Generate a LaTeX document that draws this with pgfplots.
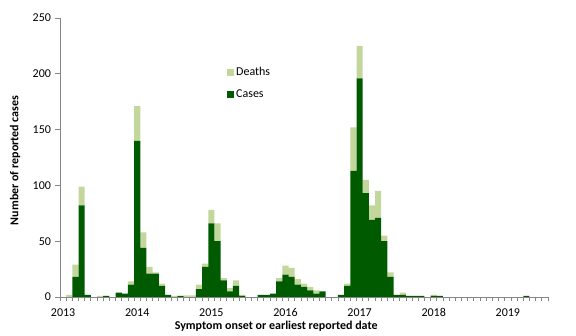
\documentclass[border=0pt]{standalone}
\usepackage{pgfplots}
\pgfplotsset{compat=1.18}
\usepackage{pgfplotstable}
\usepackage{fontspec}
\setmainfont{Carlito}
\definecolor{cases}{RGB}{0,90,0}
\definecolor{deaths}{RGB}{195,214,155}
\definecolor{axgray}{RGB}{134,134,134}

\pgfplotstableread{
x cases deaths
0.5 0 0
1.5 0 2
2.5 18 11
3.5 82 17
4.5 2 0
5.5 0 0
6.5 0 1
7.5 1 0
8.5 0 0
9.5 4 0
10.5 3 0
11.5 11 3
12.5 140 31
13.5 44 14
14.5 21 6
15.5 21 1
16.5 10 2
17.5 2 0
18.5 0 1
19.5 1 0
20.5 0 1.5
21.5 0 1.5
22.5 7 4
23.5 27 3
24.5 66 12
25.5 50 16
26.5 15 2
27.5 5 3
28.5 10 5
29.5 1 1
30.5 0 0
31.5 0 0
32.5 2 0
33.5 2 0
34.5 3 0
35.5 14 3
36.5 20 8
37.5 18 8
38.5 11 5
39.5 9 3
40.5 6 3
41.5 3 3
42.5 5 0
43.5 0 0
44.5 0 0
45.5 2 0
46.5 10 2
47.5 113 39
48.5 196 29
49.5 93 12
50.5 69 13
51.5 71 24
52.5 50 5
53.5 18 4
54.5 2 0
55.5 2 2
56.5 1 0
57.5 1 0
58.5 1 0
59.5 0 0
60.5 1 1
61.5 1 0
62.5 0 0
63.5 0 0
64.5 0 0
65.5 0 0
66.5 0 0
67.5 0 0
68.5 0 0
69.5 0 0
70.5 0 0
71.5 0 0
72.5 0 0
73.5 0 0
74.5 0 0
75.5 1 0
76.5 0 0
77.5 0 0
78.5 0 0
}\datatable

\begin{document}
\begin{tikzpicture}
\useasboundingbox (0pt,0pt) rectangle (576pt,336pt);
\begin{axis}[
  at={(60pt,39pt)}, anchor=south west,
  scale only axis, width=488pt, height=279pt,
  xmin=0, xmax=79, ymin=0, ymax=250,
  ybar stacked, bar width=1,
  axis x line*=bottom, axis y line*=left,
  axis line style={axgray, line width=0.8pt, -},
  tick align=outside,
  major tick length=4.5pt,
  tick style={axgray, line width=0.8pt},
  /pgf/number format/assume math mode=true,
  ytick={0,50,...,250},
  xtick={0,...,79}, xticklabels={},
  extra x ticks={0.5,12.5,...,72.5},
  extra x tick labels={2013,2014,2015,2016,2017,2018,2019},
  extra x tick style={major tick length=0pt, xticklabel style={yshift=-8pt}},
  ticklabel style={font=\fontsize{12}{14}\selectfont, black},
  yticklabel style={xshift=-1pt},
  ylabel={\textbf{Number of reported cases}},
  ylabel style={at={(axis description cs:-0.092,0.49)}, anchor=center, font=\fontsize{12}{14}\selectfont},
  xlabel={\textbf{Symptom onset or earliest reported date}},
  xlabel style={at={(axis description cs:0.443,-0.106)}, anchor=center, font=\fontsize{12}{14}\selectfont},
  reverse legend,
  legend style={at={(axis description cs:0.336,0.839)}, anchor=north west, draw=none, fill=none,
    font=\fontsize{12}{14}\selectfont, row sep=9pt},
  legend cell align=left,
]
\addplot[fill=cases, draw=none, legend image code/.code={\fill[cases] (0pt,-3.5pt) rectangle (7pt,3.5pt);}] table[x=x,y=cases]{\datatable};
\addlegendentry{Cases}
\addplot[fill=deaths, draw=none, legend image code/.code={\fill[deaths] (0pt,-3.5pt) rectangle (7pt,3.5pt);}] table[x=x,y=deaths]{\datatable};
\addlegendentry{Deaths}
\end{axis}
\end{tikzpicture}
\end{document}
